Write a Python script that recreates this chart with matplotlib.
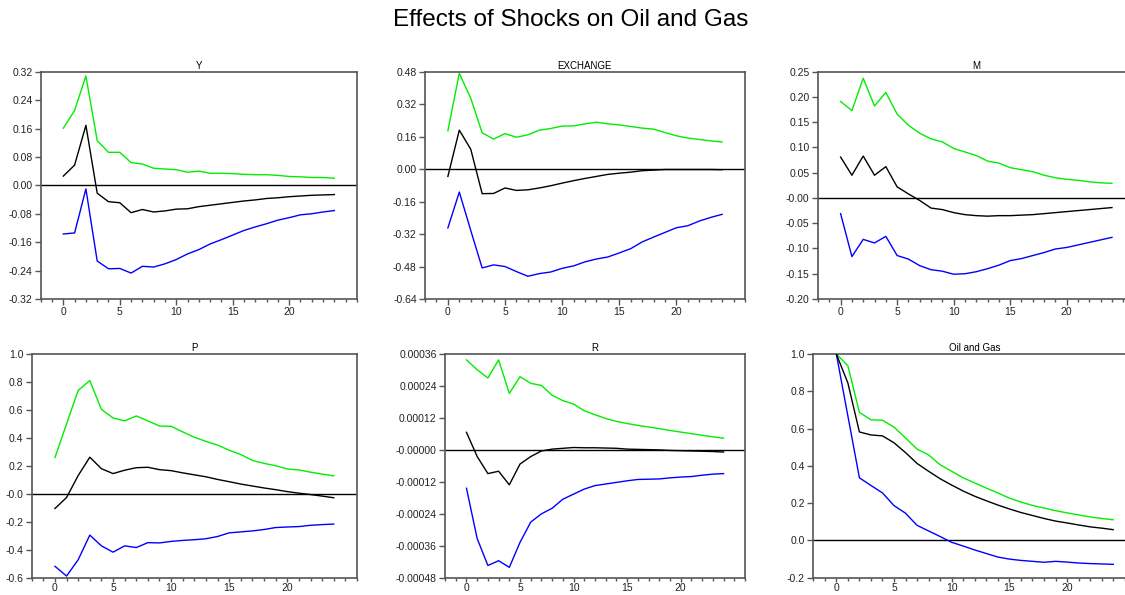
import matplotlib

matplotlib.use("Agg")
import matplotlib.pyplot as plt
from matplotlib.ticker import MultipleLocator

plt.rcParams["font.family"] = ["Liberation Sans", "DejaVu Sans"]

steps = list(range(25))

# Y
y_upper = [0.161, 0.211, 0.308, 0.126, 0.093, 0.093, 0.064, 0.060, 0.048, 0.046, 0.044, 0.037, 0.040,
           0.034, 0.034, 0.033, 0.031, 0.030, 0.030, 0.028, 0.025, 0.024, 0.022, 0.022, 0.020]
y_mid = [0.026, 0.057, 0.169, -0.022, -0.046, -0.049, -0.077, -0.068, -0.075, -0.072, -0.067, -0.066, -0.060,
         -0.056, -0.052, -0.048, -0.044, -0.041, -0.037, -0.035, -0.032, -0.030, -0.028, -0.027, -0.026]
y_lower = [-0.137, -0.134, -0.010, -0.213, -0.235, -0.234, -0.247, -0.228, -0.230, -0.221, -0.209, -0.193, -0.181,
           -0.165, -0.153, -0.140, -0.127, -0.117, -0.108, -0.098, -0.091, -0.083, -0.080, -0.075, -0.071]

# EXCHANGE
ex_upper = [0.189, 0.472, 0.349, 0.179, 0.148, 0.175, 0.157, 0.169, 0.192, 0.200, 0.212, 0.213, 0.223,
            0.231, 0.223, 0.218, 0.210, 0.202, 0.197, 0.180, 0.164, 0.153, 0.146, 0.139, 0.134]
ex_mid = [-0.036, 0.192, 0.098, -0.121, -0.120, -0.093, -0.105, -0.102, -0.093, -0.082, -0.069, -0.057, -0.046,
          -0.036, -0.026, -0.020, -0.015, -0.008, -0.005, -0.002, -0.002, -0.002, -0.002, -0.002, -0.003]
ex_lower = [-0.290, -0.113, -0.302, -0.487, -0.472, -0.480, -0.505, -0.528, -0.515, -0.507, -0.489, -0.477, -0.457,
            -0.443, -0.433, -0.413, -0.392, -0.359, -0.335, -0.312, -0.289, -0.279, -0.256, -0.238, -0.223]

# M
m_upper = [0.191, 0.173, 0.237, 0.182, 0.209, 0.166, 0.144, 0.128, 0.117, 0.111, 0.098, 0.091, 0.084,
           0.073, 0.069, 0.060, 0.056, 0.052, 0.045, 0.040, 0.037, 0.035, 0.032, 0.030, 0.029]
m_mid = [0.081, 0.045, 0.083, 0.045, 0.062, 0.022, 0.008, -0.005, -0.020, -0.023, -0.029, -0.033, -0.035,
         -0.036, -0.035, -0.035, -0.034, -0.033, -0.031, -0.029, -0.027, -0.025, -0.023, -0.021, -0.019]
m_lower = [-0.031, -0.116, -0.082, -0.089, -0.076, -0.114, -0.121, -0.134, -0.142, -0.145, -0.151, -0.150, -0.146,
           -0.140, -0.133, -0.124, -0.120, -0.114, -0.108, -0.101, -0.098, -0.093, -0.088, -0.083, -0.078]

# P
p_upper = [0.260, 0.501, 0.740, 0.810, 0.604, 0.543, 0.522, 0.557, 0.522, 0.485, 0.483, 0.443, 0.405,
           0.375, 0.349, 0.312, 0.281, 0.239, 0.218, 0.201, 0.178, 0.171, 0.155, 0.141, 0.129]
p_mid = [-0.105, -0.026, 0.131, 0.262, 0.180, 0.145, 0.169, 0.187, 0.190, 0.173, 0.166, 0.150, 0.136,
         0.122, 0.103, 0.087, 0.070, 0.056, 0.042, 0.030, 0.016, 0.005, -0.005, -0.016, -0.028]
p_lower = [-0.518, -0.588, -0.471, -0.295, -0.372, -0.417, -0.372, -0.384, -0.349, -0.351, -0.340, -0.333, -0.328,
           -0.321, -0.305, -0.279, -0.272, -0.265, -0.255, -0.241, -0.237, -0.234, -0.225, -0.220, -0.216]

# R (in units of 1e-5)
r_upper = [33.8, 30.1, 27.0, 33.8, 21.2, 27.5, 25.0, 24.2, 20.5, 18.5, 17.2, 14.7, 13.2,
           11.8, 10.7, 9.9, 9.2, 8.6, 8.0, 7.3, 6.7, 6.1, 5.5, 4.9, 4.4]
r_mid = [6.6, -2.5, -8.9, -8.0, -13.1, -5.3, -2.5, -0.4, 0.3, 0.6, 0.9, 0.8, 0.8,
         0.7, 0.6, 0.3, 0.2, 0.1, 0.0, -0.2, -0.3, -0.4, -0.5, -0.6, -0.8]
r_lower = [-14.4, -33.3, -43.4, -41.6, -44.1, -34.7, -27.1, -24.0, -21.9, -18.5, -16.6, -14.7, -13.4,
           -12.8, -12.2, -11.6, -11.1, -11.0, -10.9, -10.5, -10.2, -10.0, -9.5, -9.1, -8.9]

# Oil and Gas
og_upper = [1.0, 0.937, 0.687, 0.647, 0.645, 0.608, 0.550, 0.490, 0.459, 0.406, 0.371, 0.336, 0.308,
            0.281, 0.255, 0.227, 0.206, 0.188, 0.174, 0.160, 0.148, 0.137, 0.126, 0.118, 0.111]
og_mid = [1.0, 0.845, 0.582, 0.566, 0.561, 0.524, 0.471, 0.413, 0.371, 0.331, 0.297, 0.265, 0.237,
          0.213, 0.190, 0.169, 0.150, 0.134, 0.118, 0.104, 0.094, 0.083, 0.073, 0.066, 0.058]
og_lower = [1.0, 0.668, 0.336, 0.295, 0.255, 0.187, 0.146, 0.081, 0.051, 0.021, -0.010, -0.030, -0.051,
            -0.070, -0.089, -0.100, -0.107, -0.112, -0.117, -0.112, -0.116, -0.121, -0.124, -0.126, -0.128]

r_scale = 1e-5

panels = [
    ("Y", y_upper, y_mid, y_lower, 1.0,
     [0.32, 0.24, 0.16, 0.08, 0.0, -0.08, -0.16, -0.24, -0.32],
     ["0.32", "0.24", "0.16", "0.08", "0.00", "-0.08", "-0.16", "-0.24", "-0.32"]),
    ("EXCHANGE", ex_upper, ex_mid, ex_lower, 1.0,
     [0.48, 0.32, 0.16, 0.0, -0.16, -0.32, -0.48, -0.64],
     ["0.48", "0.32", "0.16", "0.00", "-0.16", "-0.32", "-0.48", "-0.64"]),
    ("M", m_upper, m_mid, m_lower, 1.0,
     [0.25, 0.20, 0.15, 0.10, 0.05, 0.0, -0.05, -0.10, -0.15, -0.20],
     ["0.25", "0.20", "0.15", "0.10", "0.05", "-0.00", "-0.05", "-0.10", "-0.15", "-0.20"]),
    ("P", p_upper, p_mid, p_lower, 1.0,
     [1.0, 0.8, 0.6, 0.4, 0.2, 0.0, -0.2, -0.4, -0.6],
     ["1.0", "0.8", "0.6", "0.4", "0.2", "-0.0", "-0.2", "-0.4", "-0.6"]),
    ("R", r_upper, r_mid, r_lower, r_scale,
     [0.00036, 0.00024, 0.00012, 0.0, -0.00012, -0.00024, -0.00036, -0.00048],
     ["0.00036", "0.00024", "0.00012", "-0.00000", "-0.00012", "-0.00024", "-0.00036", "-0.00048"]),
    ("Oil and Gas", og_upper, og_mid, og_lower, 1.0,
     [1.0, 0.8, 0.6, 0.4, 0.2, 0.0, -0.2],
     ["1.0", "0.8", "0.6", "0.4", "0.2", "0.0", "-0.2"]),
]

# axes rectangles (left, bottom, width, height) in figure fraction
rects = [
    (0.0362, 0.4975, 0.2811, 0.3820),
    (0.3778, 0.4975, 0.2844, 0.3820),
    (0.7271, 0.4975, 0.2814, 0.3820),
    (0.0282, 0.0290, 0.2891, 0.3760),
    (0.3956, 0.0290, 0.2666, 0.3760),
    (0.7229, 0.0290, 0.2871, 0.3760),
]

fig = plt.figure(figsize=(11.25, 5.95), dpi=100)
fig.text(0.507, 0.966, "Effects of Shocks on Oil and Gas", fontsize=17.5,
         ha="center", va="center")

spine_col = "#555555"

for i, (rect, (name, up, mid, lo, scale, yt, ytl)) in enumerate(zip(rects, panels)):
    ax = fig.add_axes(rect)
    up = [v * scale for v in up]
    mid = [v * scale for v in mid]
    lo = [v * scale for v in lo]
    ax.axhline(0.0, color="black", linewidth=1.0, zorder=1)
    ax.plot(steps, up, color="#00ee00", linewidth=1.0, zorder=2)
    ax.plot(steps, mid, color="black", linewidth=1.0, zorder=3)
    ax.plot(steps, lo, color="#0000ff", linewidth=1.0, zorder=2)

    ax.set_xlim(-2, 26)
    ax.set_ylim(yt[-1], yt[0])
    ax.set_yticks(yt)
    ax.set_yticklabels(ytl)
    ax.set_xticks([0, 5, 10, 15, 20])
    ax.xaxis.set_minor_locator(MultipleLocator(1))
    ax.tick_params(axis="both", which="major", labelsize=7.5, length=4, width=1,
                   color=spine_col, labelcolor="#222222", pad=2)
    if i >= 3:
        ax.tick_params(axis="x", which="major", length=3, pad=0.5)
    ax.tick_params(axis="x", which="minor", length=2.5, width=1, color=spine_col)
    ax.tick_params(axis="y", which="minor", left=False)
    for s in ax.spines.values():
        s.set_color(spine_col)
        s.set_linewidth(1.2)
    ax.set_title(name, fontsize=7, pad=2)

fig.savefig("out.png", dpi=100)
